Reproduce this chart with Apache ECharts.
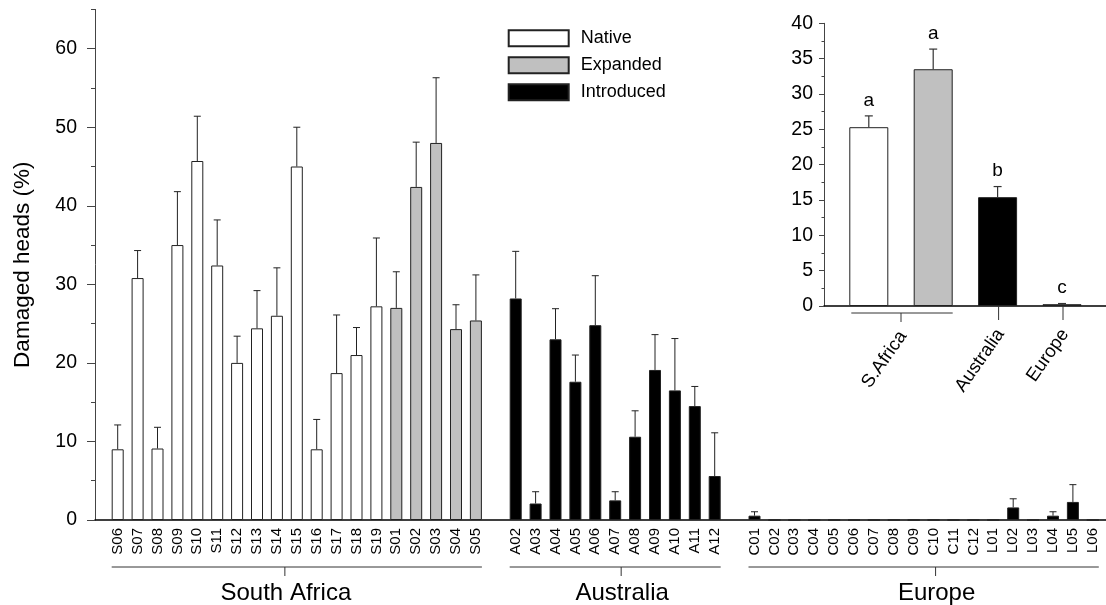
<!DOCTYPE html>
<html><head><meta charset="utf-8">
<script src="https://cdn.jsdelivr.net/npm/echarts@6/dist/echarts.min.js"></script>
<style>html,body{margin:0;padding:0;background:#fff}#c{width:1106px;height:605px}</style>
</head><body><div id="c"></div><script>
// ---------- data ----------
const nativeLabels = ['S06','S07','S08','S09','S10','S11','S12','S13','S14','S15','S16','S17','S18','S19'];
const nativeValues = [9.0, 30.8, 9.1, 35.0, 45.7, 32.4, 20.0, 24.4, 26.0, 45.0, 9.0, 18.7, 21.0, 27.2];
const nativeErrors = [3.1, 3.5, 2.7, 6.8, 5.7, 5.8, 3.4, 4.8, 6.1, 5.0, 3.8, 7.4, 3.5, 8.7];

const expandedLabels = ['S01','S02','S03','S04','S05'];
const expandedValues = [27.0, 42.4, 48.0, 24.3, 25.4];
const expandedErrors = [4.6, 5.7, 8.3, 3.1, 5.8];

const australiaLabels = ['A02','A03','A04','A05','A06','A07','A08','A09','A10','A11','A12'];
const australiaValues = [28.2, 2.1, 23.0, 17.6, 24.8, 2.5, 10.6, 19.1, 16.5, 14.5, 5.6];
const australiaErrors = [6.0, 1.5, 3.9, 3.4, 6.3, 1.1, 3.3, 4.5, 6.6, 2.5, 5.5];

const europeLabels = ['C01','C02','C03','C04','C05','C06','C07','C08','C09','C10','C11','C12','L01','L02','L03','L04','L05','L06'];
const europeValues = [0.55, 0, 0, 0, 0, 0, 0, 0, 0, 0, 0, 0, 0, 1.6, 0, 0.55, 2.3, 0];
const europeErrors = [0.5, 0, 0, 0, 0, 0, 0, 0, 0, 0, 0, 0, 0, 1.1, 0, 0.5, 2.2, 0];

const groupNames = ['South Africa', 'Australia', 'Europe'];
const groupTickPos = [8.4, 25.3, 41.1];   // where the group tick/label sits (category units)

const yTicks = [0, 10, 20, 30, 40, 50, 60];

const insetCategories = ['S.Africa native', 'S.Africa expanded', 'Australia', 'Europe'];
const insetValues = [25.3, 33.5, 15.4, 0.25];
const insetErrors = [1.6, 2.85, 1.5, 0.1];
const insetLetters = ['a', 'a', 'b', 'c'];
const insetGroupNames = ['S.Africa', 'Australia', 'Europe'];
const insetGroupFrom = [0, 2, 3];
const insetGroupTo = [1, 2, 3];

// ---------- build ----------
const FONT = '"Liberation Sans", Arial, sans-serif';
const BAR_W = 12, INSET_BAR_W = 39;
const categories = [].concat(nativeLabels, expandedLabels, [''], australiaLabels, [''], europeLabels);
const N = categories.length;
const blank = () => new Array(N).fill('-');
const nativeData = blank(), expandedData = blank(), introData = blank();
const errData = [];
let idx = 0;
nativeValues.forEach((v, i) => { nativeData[idx] = v; errData.push([idx, v, nativeErrors[i]]); idx++; });
expandedValues.forEach((v, i) => { expandedData[idx] = v; errData.push([idx, v, expandedErrors[i]]); idx++; });
const saEnd = idx - 1; idx++;
const auStart = idx;
australiaValues.forEach((v, i) => { introData[idx] = v; errData.push([idx, v, australiaErrors[i]]); idx++; });
const auEnd = idx - 1; idx++;
const euStart = idx;
europeValues.forEach((v, i) => { introData[idx] = v; errData.push([idx, v, europeErrors[i]]); idx++; });
const euEnd = idx - 1;
const groupFrom = [0, auStart, euStart];
const groupTo = [saEnd, auEnd, euEnd];

const insetColors = ['#ffffff', '#c0c0c0', '#000000', '#000000'];

function errRender(capHalf, color, lw) {
  return function (params, api) {
    const x = api.value(0), v = api.value(1), e = api.value(2);
    if (!(e > 0)) return null;
    const p0 = api.coord([x, v]), p1 = api.coord([x, v + e]);
    return { type: 'group', children: [
      { type: 'line', shape: { x1: p0[0], y1: p0[1], x2: p1[0], y2: p1[1] }, style: { stroke: color, lineWidth: lw } },
      { type: 'line', shape: { x1: p1[0] - capHalf, y1: p1[1], x2: p1[0] + capHalf, y2: p1[1] }, style: { stroke: color, lineWidth: lw } }
    ]};
  };
}

function mainGroupRender(params, api) {
  const i = params.dataIndex;
  const base = api.coord([0, 0]);
  const bw = api.size([1, 0])[0];
  const cx = k => base[0] + k * bw;
  const y0 = base[1];
  const yl = y0 + 47;
  const tx = cx(groupTickPos[i]);
  return { type: 'group', children: [
    { type: 'line', shape: { x1: cx(groupFrom[i]) - BAR_W / 2, y1: yl, x2: cx(groupTo[i]) + BAR_W / 2, y2: yl }, style: { stroke: '#333', lineWidth: 1 } },
    { type: 'line', shape: { x1: tx, y1: yl, x2: tx, y2: yl + 9 }, style: { stroke: '#333', lineWidth: 1 } },
    { type: 'text', style: { text: groupNames[i], x: tx + 1, y: y0 + 73, fill: '#000', fontSize: 24, fontFamily: FONT, align: 'center', verticalAlign: 'middle' } }
  ]};
}

function insetGroupRender(params, api) {
  const i = params.dataIndex;
  const base = api.coord([0, 0]);
  const bw = api.size([1, 0])[0];
  const cx = k => base[0] + k * bw;
  const y0 = base[1];
  const children = [];
  let tx, tb;
  if (insetGroupFrom[i] !== insetGroupTo[i]) {
    const yl = y0 + 7;
    tx = (cx(insetGroupFrom[i]) + cx(insetGroupTo[i])) / 2;
    tb = yl + 9;
    children.push({ type: 'line', shape: { x1: cx(insetGroupFrom[i]) - INSET_BAR_W / 2 + 2, y1: yl, x2: cx(insetGroupTo[i]) + INSET_BAR_W / 2, y2: yl }, style: { stroke: '#333', lineWidth: 1 } });
    children.push({ type: 'line', shape: { x1: tx, y1: yl, x2: tx, y2: tb }, style: { stroke: '#333', lineWidth: 1 } });
  } else {
    tx = cx(insetGroupFrom[i]) + 1;
    tb = y0 + 14;
    children.push({ type: 'line', shape: { x1: tx, y1: y0, x2: tx, y2: tb }, style: { stroke: '#333', lineWidth: 1 } });
  }
  children.push({ type: 'text', x: tx + 2, y: tb + 11, rotation: 55 * Math.PI / 180,
    style: { text: insetGroupNames[i], x: 0, y: 0, fill: '#000', fontSize: 18.5, fontFamily: FONT, align: 'right', verticalAlign: 'middle' } });
  return { type: 'group', children };
}

function letterRender(params, api) {
  const i = params.dataIndex;
  const p = api.coord([api.value(0), api.value(1) + api.value(2)]);
  return { type: 'text', style: { text: insetLetters[i], x: p[0], y: p[1] - 6, fill: '#000', fontSize: 19, fontFamily: FONT, align: 'center', verticalAlign: 'bottom' } };
}

const barStyle = c => ({ color: c, borderColor: '#222', borderWidth: 1 });
const lineAxis = gi => ({ type: 'value', gridIndex: gi, min: 0, max: 1, axisLine: { show: true, onZero: false, lineStyle: { color: '#000', width: 1.5 } }, axisTick: { show: false }, axisLabel: { show: false }, splitLine: { show: false } });

const option = {
  animation: false,
  backgroundColor: '#fff',
  textStyle: { fontFamily: FONT },
  legend: {
    data: ['Native', 'Expanded', 'Introduced'], orient: 'vertical', left: 507.7, top: 29.3, padding: 0,
    itemWidth: 60, itemHeight: 16, itemGap: 9, icon: 'rect', selectedMode: false,
    textStyle: { fontSize: 18, color: '#000', fontFamily: FONT, lineHeight: 16, padding: [0, 0, 0, 7] }
  },
  grid: [
    { left: 107.75, right: 3.25, top: 9.4, bottom: 85 },
    { left: 95, right: 0, top: 9.4, bottom: 85 },
    { left: 836.6, right: 11.8, top: 23.3, bottom: 299 },
    { left: 824, right: 0, top: 23.3, bottom: 299 }
  ],
  xAxis: [
    { type: 'category', gridIndex: 0, data: categories, axisLine: { show: false }, axisTick: { show: false },
      axisLabel: { rotate: 90, interval: 0, margin: 8, fontSize: 15, color: '#000', fontFamily: FONT } },
    lineAxis(1),
    { type: 'category', gridIndex: 2, data: insetCategories, axisLine: { show: false }, axisTick: { show: false }, axisLabel: { show: false } },
    lineAxis(3)
  ],
  yAxis: [
    { type: 'value', gridIndex: 0, position: 'left', min: 0, max: 65, interval: 5, offset: 12.75,
      axisLine: { show: true, lineStyle: { color: '#444', width: 1 } },
      axisTick: { show: true, length: 4, lineStyle: { color: '#444' } }, axisLabel: { show: false }, splitLine: { show: false } },
    { type: 'value', gridIndex: 0, position: 'left', min: 0, max: 65, interval: 10, offset: 12.75,
      axisLine: { show: false },
      axisTick: { show: true, length: 8, customValues: yTicks, lineStyle: { color: '#444' } },
      axisLabel: { customValues: yTicks, fontSize: 19.5, margin: 18, color: '#000', fontFamily: FONT, formatter: v => (v > 60 ? '' : String(v)) },
      splitLine: { show: false },
      name: 'Damaged heads (%)', nameLocation: 'middle', nameGap: 61, nameRotate: 90,
      nameTextStyle: { fontSize: 22.5, color: '#000', fontFamily: FONT } },
    { type: 'value', gridIndex: 1, min: 0, max: 65, show: false },
    { type: 'value', gridIndex: 2, position: 'left', min: 0, max: 40, interval: 5, offset: 12.6,
      axisLine: { show: true, lineStyle: { color: '#444', width: 1 } },
      axisTick: { show: true, length: 5, lineStyle: { color: '#444' } },
      minorTick: { show: true, splitNumber: 2, length: 2.5, lineStyle: { color: '#444' } },
      axisLabel: { fontSize: 19.5, margin: 11, color: '#000', fontFamily: FONT }, splitLine: { show: false } },
    { type: 'value', gridIndex: 3, min: 0, max: 40, show: false }
  ],
  series: [
    { name: 'Native', type: 'bar', xAxisIndex: 0, yAxisIndex: 0, data: nativeData, barWidth: BAR_W, barGap: '-100%', itemStyle: barStyle('#ffffff') },
    { name: 'Expanded', type: 'bar', xAxisIndex: 0, yAxisIndex: 0, data: expandedData, barWidth: BAR_W, barGap: '-100%', itemStyle: barStyle('#c0c0c0') },
    { name: 'Introduced', type: 'bar', xAxisIndex: 0, yAxisIndex: 0, data: introData, barWidth: BAR_W, barGap: '-100%', itemStyle: barStyle('#000000') },
    { type: 'custom', xAxisIndex: 0, yAxisIndex: 0, data: errData, renderItem: errRender(3.5, '#222', 1), clip: false, z: 3, encode: { x: 0, y: 1 } },
    { type: 'custom', xAxisIndex: 0, yAxisIndex: 0, data: groupNames.map((n, i) => [groupFrom[i], 0]), renderItem: mainGroupRender, clip: false, z: 3, encode: { x: 0, y: 1 } },
    { name: 'inset', type: 'bar', xAxisIndex: 2, yAxisIndex: 3, barWidth: INSET_BAR_W,
      data: insetValues.map((v, i) => ({ value: v, itemStyle: barStyle(insetColors[i]) })) },
    { type: 'custom', xAxisIndex: 2, yAxisIndex: 3, data: insetValues.map((v, i) => [i, v, insetErrors[i]]), renderItem: errRender(4, '#333', 1.2), clip: false, z: 3, encode: { x: 0, y: 1 } },
    { type: 'custom', xAxisIndex: 2, yAxisIndex: 3, data: insetValues.map((v, i) => [i, v, insetErrors[i]]), renderItem: letterRender, clip: false, z: 3, encode: { x: 0, y: 1 } },
    { type: 'custom', xAxisIndex: 2, yAxisIndex: 3, data: insetGroupNames.map((n, i) => [insetGroupFrom[i], 0]), renderItem: insetGroupRender, clip: false, z: 3, encode: { x: 0, y: 1 } }
  ]
};
const chart = echarts.init(document.getElementById('c'), null, { renderer: 'canvas' });
chart.setOption(option);
</script></body></html>
